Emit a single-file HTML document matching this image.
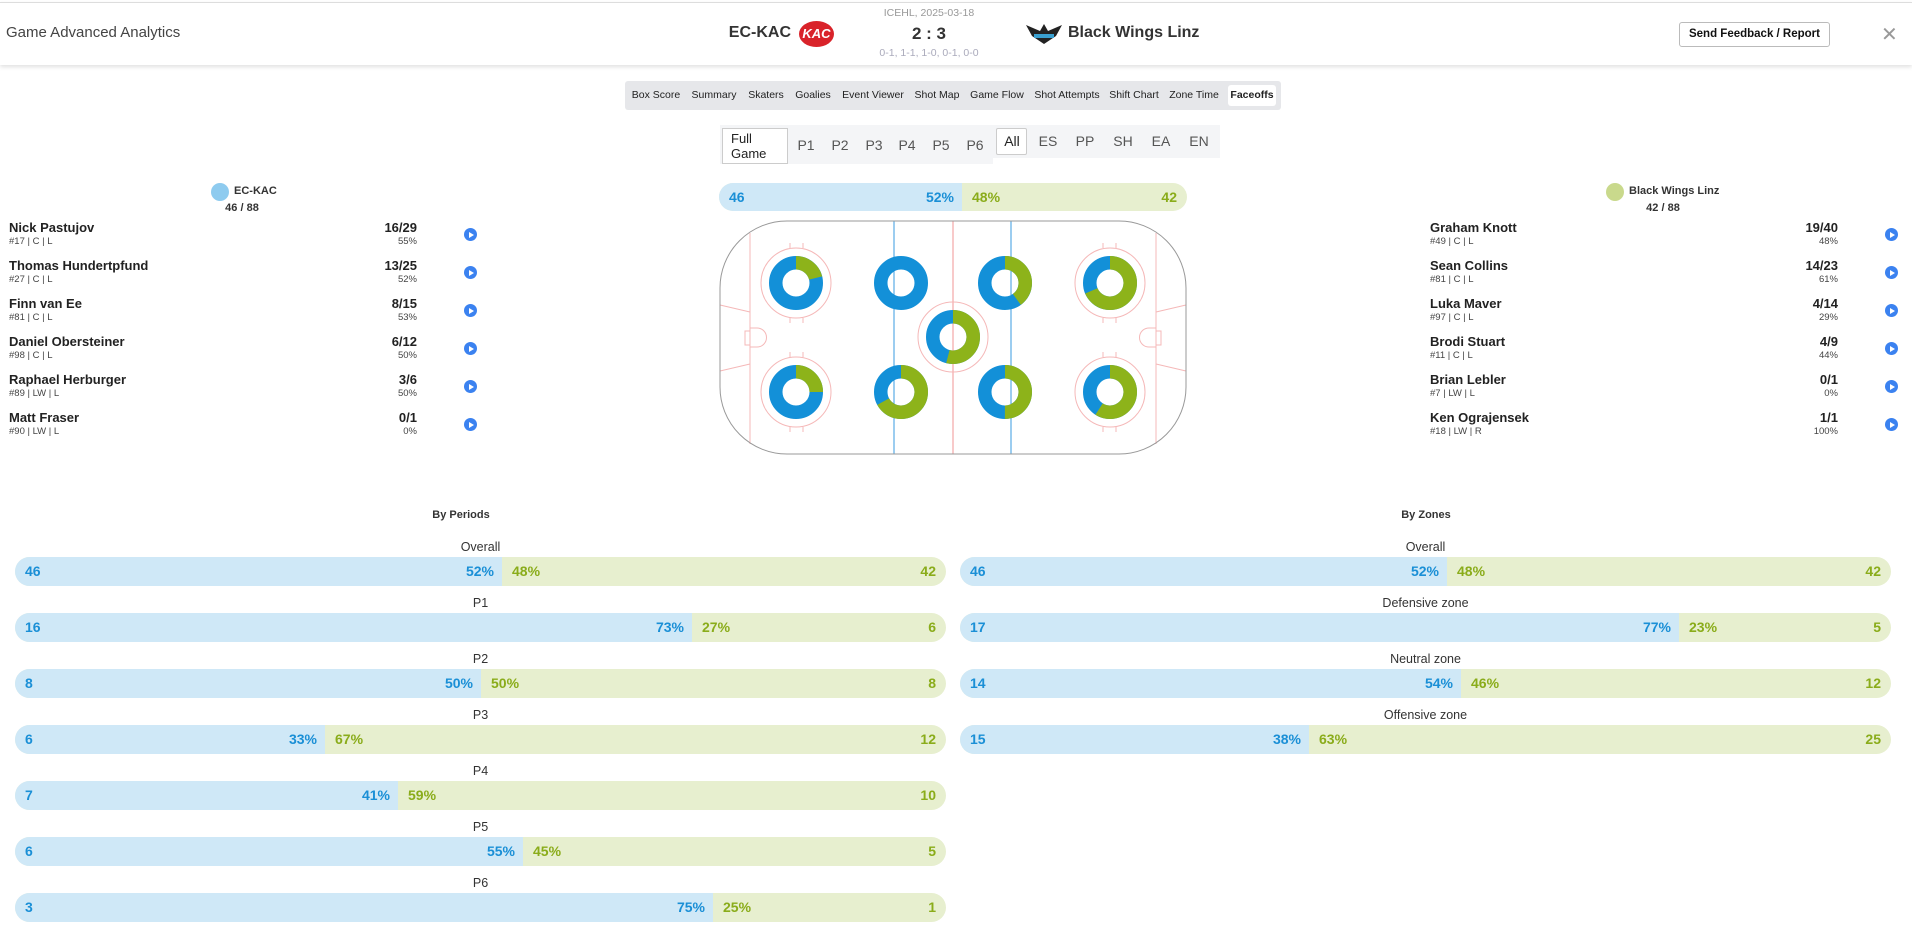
<!DOCTYPE html>
<html><head><meta charset="utf-8">
<style>
*{margin:0;padding:0;box-sizing:border-box}
body{width:1912px;height:927px;position:relative;background:#fff;font-family:"Liberation Sans",Arial,sans-serif;color:#333;overflow:hidden}
.a{position:absolute;white-space:nowrap}
.hdr{position:absolute;left:0;top:2px;width:1912px;height:63px;border-top:1px solid #ddd;box-shadow:0 2px 4px rgba(0,0,0,.12);background:#fff}
.tab{position:absolute;top:81px;height:29px;line-height:29px;font-size:10.5px;color:#222;transform:translateX(-50%)}
.flt{position:absolute;font-size:14px;color:#555;transform:translate(-50%,-50%)}
.pn{position:absolute;left:9px;font-size:13px;font-weight:bold;color:#222}
.ps{position:absolute;font-size:9.5px;color:#444}
.sc{position:absolute;font-size:13px;font-weight:bold;color:#222;text-align:right}
.pp{position:absolute;font-size:9.5px;color:#444;text-align:right}
.ic{position:absolute;width:13px;height:13px;border-radius:50%;background:#3b82f0}
.ic:after{content:"";position:absolute;left:5px;top:3.5px;border-left:5px solid #fff;border-top:3px solid transparent;border-bottom:3px solid transparent}
.bar{position:absolute;height:29px;border-radius:15px;overflow:hidden;background:#e7efcf;font-size:14px;font-weight:bold}
.bar .b{position:absolute;left:0;top:0;bottom:0;background:#cfe8f7}
.bar span{position:absolute;top:0;line-height:29px}
.bl{color:#1a8fd6}.gr{color:#8aac1a}
.lab{position:absolute;font-size:12.5px;color:#333;transform:translateX(-50%)}
</style></head><body>
<div class="hdr"></div>
<div class="a" style="left:6px;top:24px;font-size:15px;color:#444">Game Advanced Analytics</div>
<div class="a" style="left:929px;top:7px;font-size:10.5px;color:#999;transform:translateX(-50%)">ICEHL, 2025-03-18</div>
<div class="a" style="right:1121px;top:24px;font-size:16px;font-weight:bold;color:#333">EC-KAC</div>
<div class="a" style="left:799px;top:21px;width:35px;height:26px;border-radius:50%;background:#d9232a;color:#fff;font-size:13px;font-weight:bold;text-align:center;line-height:26px;font-style:italic">KAC</div>
<div class="a" style="left:929px;top:24px;font-size:17px;font-weight:bold;color:#333;transform:translateX(-50%)">2 : 3</div>
<div class="a" style="left:929px;top:47px;font-size:10.5px;color:#aab;transform:translateX(-50%)">0-1, 1-1, 1-0, 0-1, 0-0</div>
<svg class="a" style="left:1026px;top:22px" width="36" height="24"><path d="M0 3 L14 9 L18 2 L22 9 L36 3 L30 14 L18 22 L6 14Z" fill="#222"/><rect x="8" y="12" width="20" height="4" fill="#3aa0d0"/></svg>
<div class="a" style="left:1068px;top:24px;font-size:16px;font-weight:bold;color:#333">Black Wings Linz</div>
<div class="a" style="left:1679px;top:22px;width:151px;height:25px;border:1px solid #bbb;border-radius:3px;font-size:11.5px;font-weight:bold;line-height:23px;text-align:center;color:#111">Send Feedback / Report</div>
<div class="a" style="left:1881px;top:22px;font-size:20px;color:#999">✕</div>

<div class="a" style="left:625px;top:81px;width:656px;height:29px;background:#e6e7ea;border-radius:3px"></div>
<div class="a" style="left:1228px;top:85px;width:48px;height:21px;background:#fff;border-radius:3px"></div>
<div class="tab" style="left:656px">Box Score</div>
<div class="tab" style="left:714px">Summary</div>
<div class="tab" style="left:766px">Skaters</div>
<div class="tab" style="left:813px">Goalies</div>
<div class="tab" style="left:873px">Event Viewer</div>
<div class="tab" style="left:937px">Shot Map</div>
<div class="tab" style="left:997px">Game Flow</div>
<div class="tab" style="left:1067px">Shot Attempts</div>
<div class="tab" style="left:1134px">Shift Chart</div>
<div class="tab" style="left:1194px">Zone Time</div>
<div class="tab" style="left:1252px;font-weight:bold">Faceoffs</div>

<div class="a" style="left:720px;top:125px;width:273px;height:39px;background:#f4f5f7"></div>
<div class="a" style="left:993px;top:125px;width:227px;height:33px;background:#f4f5f7"></div>
<div class="a" style="left:722px;top:128px;width:66px;height:36px;background:#fff;border:1px solid #ccc;font-size:13px;color:#222;padding:2px 8px;line-height:15px;white-space:normal">Full Game</div>
<div class="a" style="left:996px;top:128px;width:31px;height:27px;background:#fff;border:1px solid #ccc;border-radius:2px"></div>
<div class="flt" style="left:806px;top:145px">P1</div>
<div class="flt" style="left:840px;top:145px">P2</div>
<div class="flt" style="left:874px;top:145px">P3</div>
<div class="flt" style="left:907px;top:145px">P4</div>
<div class="flt" style="left:941px;top:145px">P5</div>
<div class="flt" style="left:975px;top:145px">P6</div>
<div class="flt" style="left:1012px;top:141px;color:#222">All</div>
<div class="flt" style="left:1048px;top:141px">ES</div>
<div class="flt" style="left:1085px;top:141px">PP</div>
<div class="flt" style="left:1123px;top:141px">SH</div>
<div class="flt" style="left:1161px;top:141px">EA</div>
<div class="flt" style="left:1199px;top:141px">EN</div>

<div class="a" style="left:211px;top:183px;width:18px;height:18px;border-radius:50%;background:#8ecbef"></div>
<div class="a" style="left:234px;top:185px;font-size:11px;font-weight:bold">EC-KAC</div>
<div class="a" style="left:242px;top:202px;font-size:11px;font-weight:bold;transform:translateX(-50%)">46 / 88</div>

<div class="a" style="left:1606px;top:183px;width:18px;height:18px;border-radius:50%;background:#c9d98c"></div>
<div class="a" style="left:1629px;top:185px;font-size:11px;font-weight:bold">Black Wings Linz</div>
<div class="a" style="left:1663px;top:202px;font-size:11px;font-weight:bold;transform:translateX(-50%)">42 / 88</div>

<div id="players"></div>

<div class="bar" style="left:719px;top:183px;width:468px;height:28px"><div class="b" style="width:243px"></div>
<span class="bl" style="left:10px;line-height:28px">46</span><span class="bl" style="right:233px;line-height:28px">52%</span><span class="gr" style="left:253px;line-height:28px">48%</span><span class="gr" style="right:10px;line-height:28px">42</span></div>

<svg class="a" style="left:700px;top:170px" width="500" height="300" viewBox="0 0 500 300">
<g fill="none" stroke="#f5b8b8" stroke-width="1">
<line x1="50" y1="63" x2="50" y2="274"/><line x1="456" y1="63" x2="456" y2="274"/>
<line x1="20" y1="135" x2="50" y2="142"/><line x1="20" y1="201" x2="50" y2="194"/>
<line x1="486" y1="135" x2="456" y2="142"/><line x1="486" y1="201" x2="456" y2="194"/>
<path d="M50 158 H57 A9 9 0 0 1 57 177 H50"/><rect x="45" y="161" width="5" height="14"/>
<path d="M456 158 H449 A9 9 0 0 0 449 177 H456"/><rect x="456" y="161" width="5" height="14"/>
<line x1="253" y1="51" x2="253" y2="284" stroke-width="1.5"/>
<circle cx="96" cy="113" r="35"/><circle cx="96" cy="222" r="35"/><circle cx="410" cy="113" r="35"/><circle cx="410" cy="222" r="35"/><circle cx="253" cy="167" r="35"/>
<path d="M90 73v5M103 73v5M90 148v5M103 148v5M90 182v5M103 182v5M90 257v5M103 257v5M403 73v5M416 73v5M403 148v5M416 148v5M403 182v5M416 182v5M403 257v5M416 257v5"/>
</g>
<line x1="194" y1="51" x2="194" y2="284" stroke="#3a9be0"/><line x1="311" y1="51" x2="311" y2="284" stroke="#3a9be0"/>
<rect x="20" y="51" width="466" height="233" rx="67" fill="none" stroke="#999"/>
<g id="donuts"></g>
</svg>

<div class="a" style="left:461px;top:509px;font-size:11px;font-weight:bold;transform:translateX(-50%)">By Periods</div>
<div class="a" style="left:1426px;top:509px;font-size:11px;font-weight:bold;transform:translateX(-50%)">By Zones</div>
<div id="bars"></div>

<script>
var L=[["Nick Pastujov","#17 | C | L","16/29","55%"],["Thomas Hundertpfund","#27 | C | L","13/25","52%"],["Finn van Ee","#81 | C | L","8/15","53%"],["Daniel Obersteiner","#98 | C | L","6/12","50%"],["Raphael Herburger","#89 | LW | L","3/6","50%"],["Matt Fraser","#90 | LW | L","0/1","0%"]];
var R=[["Graham Knott","#49 | C | L","19/40","48%"],["Sean Collins","#81 | C | L","14/23","61%"],["Luka Maver","#97 | C | L","4/14","29%"],["Brodi Stuart","#11 | C | L","4/9","44%"],["Brian Lebler","#7 | LW | L","0/1","0%"],["Ken Ograjensek","#18 | LW | R","1/1","100%"]];
var h="";
function pl(arr,x0,sr,ix){arr.forEach(function(p,i){var y=220+i*38;
h+='<div class="pn" style="left:'+x0+'px;top:'+y+'px">'+p[0]+'</div><div class="ps" style="left:'+x0+'px;top:'+(y+16)+'px">'+p[1]+'</div>';
h+='<div class="sc" style="right:'+(1912-sr)+'px;top:'+y+'px">'+p[2]+'</div><div class="pp" style="right:'+(1912-sr)+'px;top:'+(y+16)+'px">'+p[3]+'</div>';
h+='<div class="ic" style="left:'+(ix-6)+'px;top:'+(y+8)+'px"></div>';});}
pl(L,9,417,470);pl(R,1430,1838,1891);
document.getElementById("players").innerHTML=h;
var C=2*Math.PI*20.25,d="";
[[96,113,.21],[201,113,0],[305,113,.40],[410,113,.685],[253,167,.54],[96,222,.25],[201,222,.67],[305,222,.5],[410,222,.59]].forEach(function(a){
d+='<circle cx="'+a[0]+'" cy="'+a[1]+'" r="20.25" fill="none" stroke="#1390d8" stroke-width="13.5"/>';
if(a[2]>0)d+='<circle cx="'+a[0]+'" cy="'+a[1]+'" r="20.25" fill="none" stroke="#8db31a" stroke-width="13.5" stroke-dasharray="'+(a[2]*C)+' '+C+'" transform="rotate(-90 '+a[0]+' '+a[1]+')"/>';});
document.getElementById("donuts").innerHTML=d;
var P=[["Overall",46,42,52,48],["P1",16,6,73,27],["P2",8,8,50,50],["P3",6,12,33,67],["P4",7,10,41,59],["P5",6,5,55,45],["P6",3,1,75,25]];
var Z=[["Overall",46,42,52,48],["Defensive zone",17,5,77,23],["Neutral zone",14,12,54,46],["Offensive zone",15,25,38,63]];
var b="";
function bars(arr,x0,w){arr.forEach(function(r,i){var y=557+i*56,s=Math.round(w*r[1]/(r[1]+r[2]));
b+='<div class="lab" style="left:'+(x0+w/2)+'px;top:'+(y-17)+'px">'+r[0]+'</div>';
b+='<div class="bar" style="left:'+x0+'px;top:'+y+'px;width:'+w+'px"><div class="b" style="width:'+s+'px"></div><span class="bl" style="left:10px">'+r[1]+'</span><span class="bl" style="right:'+(w-s+8)+'px">'+r[3]+'%</span><span class="gr" style="left:'+(s+10)+'px">'+r[4]+'%</span><span class="gr" style="right:10px">'+r[2]+'</span></div>';});}
bars(P,15,931);bars(Z,960,931);
document.getElementById("bars").innerHTML=b;
</script>
</body></html>
